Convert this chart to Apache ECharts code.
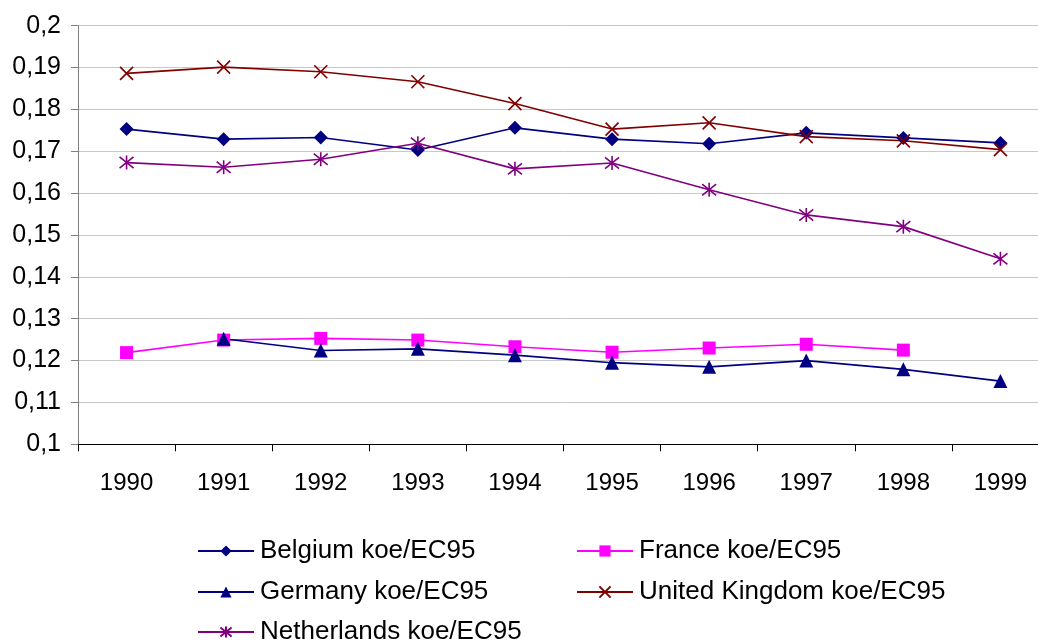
<!DOCTYPE html>
<html>
<head>
<meta charset="utf-8">
<style>
  html, body { margin: 0; padding: 0; background: #ffffff; overflow: hidden; }
  /* the plot area runs a little past the right edge of the window */
  #chart { width: 1060px; height: 643px; }
</style>
<script src="https://cdn.jsdelivr.net/npm/echarts@6/dist/echarts.min.js"></script>
</head>
<body>
<div id="chart"></div>
<script>
// Energy intensity, koe per EC95, 1990-1999
const years = ['1990', '1991', '1992', '1993', '1994', '1995', '1996', '1997', '1998', '1999'];
const belgium     = [0.1753, 0.1729, 0.1733, 0.1703, 0.1756, 0.1729, 0.1718, 0.1744, 0.1732, 0.1720];
const france      = [0.1219, 0.1249, 0.1253, 0.1249, 0.1233, 0.1220, 0.1230, 0.1239, 0.1225, null];
const germany     = [null,   0.1252, 0.1224, 0.1228, 0.1213, 0.1195, 0.1185, 0.1200, 0.1179, 0.1151];
const unitedKingdom = [0.1886, 0.1901, 0.1890, 0.1866, 0.1814, 0.1753, 0.1768, 0.1735, 0.1725, 0.1704];
const netherlands = [0.1673, 0.1662, 0.1681, 0.1719, 0.1658, 0.1672, 0.1608, 0.1548, 0.1520, 0.1443];
const seriesNames = [
  'Belgium koe/EC95', 'France koe/EC95', 'Germany koe/EC95',
  'United Kingdom koe/EC95', 'Netherlands koe/EC95'
];
const yMin = 0.1, yMax = 0.2, yStep = 0.01;

const FONT = 'Liberation Sans, Arial, sans-serif';
const crossPath = 'path://M0,0L20,20M20,0L0,20';
const starPath = 'path://M2,2L18,18M18,2L2,18M10,0L10,20';

function lineSeries(name, data, color, symbol, size, stroked) {
  return {
    name: name,
    type: 'line',
    data: data,
    symbol: symbol,
    symbolSize: size,
    showAllSymbol: true,
    connectNulls: false,
    animation: false,
    lineStyle: { color: color, width: 1.6 },
    itemStyle: stroked
      ? { color: 'rgba(0,0,0,0)', borderColor: color, borderWidth: 1.6 }
      : { color: color, borderWidth: 0 }
  };
}

function legendAt(name, left, top) {
  return {
    data: [name],
    left: left,
    top: top,
    itemWidth: 56,
    itemHeight: 14,
    itemGap: 0,
    padding: 0,
    selectedMode: false,
    textStyle: { fontFamily: FONT, fontSize: 26, color: '#000', padding: [0, 0, 0, 1] }
  };
}

const chart = echarts.init(document.getElementById('chart'), null, { renderer: 'canvas' });
chart.setOption({
  backgroundColor: '#ffffff',
  animation: false,
  grid: { left: 78, top: 25.7, width: 971, height: 418.6, containLabel: false },
  xAxis: {
    type: 'category',
    data: years,
    boundaryGap: true,
    axisLine: { show: true, lineStyle: { color: '#000', width: 1 } },
    axisTick: { show: true, length: 7, lineStyle: { color: '#000' } },
    axisLabel: { fontFamily: FONT, fontSize: 24, color: '#000', margin: 27 },
    splitLine: { show: false }
  },
  yAxis: {
    type: 'value',
    min: yMin,
    max: yMax,
    interval: yStep,
    axisLine: { show: true, lineStyle: { color: '#808080', width: 1 } },
    axisTick: { show: true, length: 7, lineStyle: { color: '#808080' } },
    axisLabel: {
      fontFamily: FONT, fontSize: 25, color: '#000', margin: 17,
      formatter: function (v) { return String(Math.round(v * 100) / 100).replace('.', ','); }
    },
    splitLine: { show: true, lineStyle: { color: '#c8c8c8', width: 1 } }
  },
  legend: [
    legendAt(seriesNames[0], 197, 538),
    legendAt(seriesNames[1], 576, 538),
    legendAt(seriesNames[2], 197, 579),
    legendAt(seriesNames[3], 576, 579),
    legendAt(seriesNames[4], 197, 619)
  ],
  series: [
    lineSeries(seriesNames[0], belgium, '#000080', 'diamond', 14, false),
    lineSeries(seriesNames[1], france, '#ff00ff', 'rect', 13, false),
    lineSeries(seriesNames[2], germany, '#000080', 'triangle', 14, false),
    lineSeries(seriesNames[3], unitedKingdom, '#800000', crossPath, 13, true),
    lineSeries(seriesNames[4], netherlands, '#800080', starPath, 14, true)
  ]
});
</script>
</body>
</html>
